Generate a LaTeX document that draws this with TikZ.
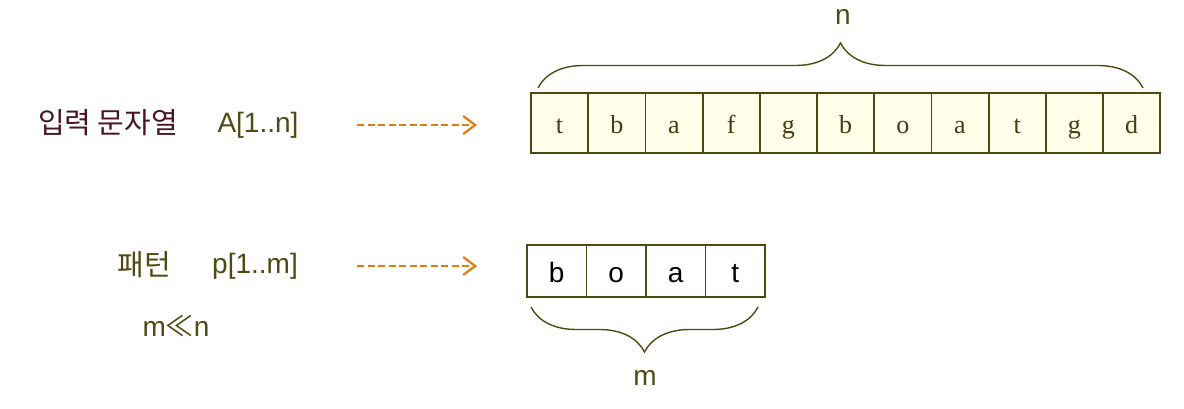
\documentclass[tikz,border=0pt]{standalone}
\usepackage{fontspec}
\setmainfont{Liberation Serif}
\setsansfont{Liberation Sans}
\newfontfamily\kr{Noto Sans CJK KR}
\usetikzlibrary{decorations.pathreplacing,arrows.meta}
\definecolor{olive}{HTML}{4F4A12}
\definecolor{maroon}{HTML}{4A1428}
\definecolor{arr}{HTML}{E07B12}
\definecolor{cellfill}{HTML}{FFFFEA}
\definecolor{ltxt}{HTML}{4A3A14}
\begin{document}
\begin{tikzpicture}[x=1pt,y=-1pt,
  tcell/.style={draw=olive,line width=1.8pt,fill=cellfill,minimum width=57.2pt,minimum height=60pt,inner sep=0pt,text height=22pt,text depth=1pt,font=\rmfamily\fontsize{26}{26}\selectfont,text=ltxt,anchor=center},
  pcell/.style={draw=olive,line width=1.8pt,fill=white,minimum width=59.5pt,minimum height=52pt,inner sep=0pt,text height=22pt,text depth=0pt,font=\sffamily\fontsize{28}{28}\selectfont,text=black,anchor=center},
  lbl/.style={font=\sffamily\fontsize{28}{28}\selectfont,text=olive,inner sep=0pt},
  krl/.style={font=\kr\fontsize{29}{29}\selectfont,inner sep=0pt},
  darr/.style={draw=arr,line width=2.2pt,dash pattern=on 7pt off 3.5pt,-{Straight Barb[length=12pt,width=18pt,line width=2.2pt]}},
  brc/.style={draw=olive,line width=1.4pt,decorate,decoration={brace,amplitude=45pt}}]
\useasboundingbox (0,0) rectangle (1184,409);
% labels
\node[krl,text=maroon] (ia) at (108,123) {입력 문자열};
\node[lbl] (A) at (258,125) {A[1..n]};
\node[krl,text=olive] (pt) at (144,265) {패턴};
\node[lbl] (P) at (255,266) {p[1..m]};
\node[lbl] (mn) at (176,326) {m{\kr ≪}n};
% text cells
\foreach \c [count=\i] in {t,b,a,f,g,b,o,a,t,g,d}{
  \node[tcell] (t\i) at ({531+57.2*(\i-0.5)},123) {\c};
}
% pattern cells
\foreach \c [count=\i] in {b,o,a,t}{
  \node[pcell] (p\i) at ({527+59.5*(\i-0.5)},271) {\c};
}
% arrows
\coordinate (a1s) at (357,125); \coordinate (a1e) at (477,125);
\coordinate (a2s) at (357,266); \coordinate (a2e) at (477,266);
\draw[darr] (a1s) -- (a1e);
\draw[darr] (a2s) -- (a2e);
% braces
\coordinate (bt1) at (538,88); \coordinate (bt2) at (1143,88);
\draw[brc] (bt1) -- (bt2);
\node[lbl] (n) at (843,17) {n};
\coordinate (bb1) at (758,307); \coordinate (bb2) at (531,307);
\draw[brc] (bb1) -- (bb2);
\node[lbl] (m) at (645,378) {m};
\end{tikzpicture}
\end{document}
